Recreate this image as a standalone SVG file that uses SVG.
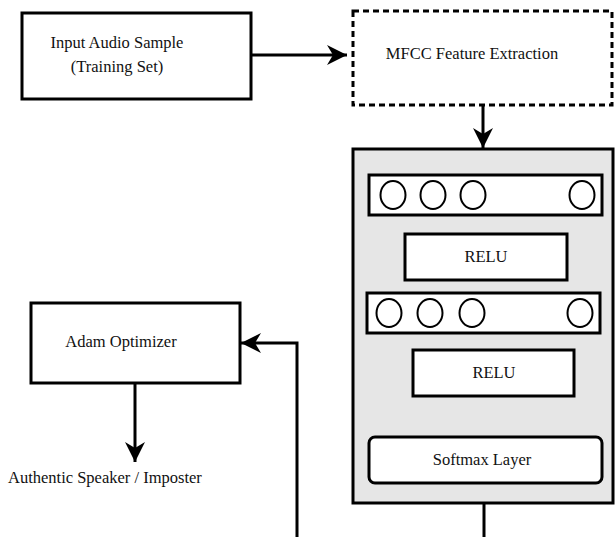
<svg xmlns="http://www.w3.org/2000/svg" width="616" height="537" viewBox="0 0 616 537">
  <style>
    .box { fill: #ffffff; stroke: #000000; stroke-width: 3; }
    .dashed { fill: #ffffff; stroke: #000000; stroke-width: 3; stroke-dasharray: 6 4; }
    .panel { fill: #e6e6e6; stroke: #000000; stroke-width: 3; }
    .neuron { fill: #ffffff; stroke: #000000; stroke-width: 2; }
    .edge { fill: none; stroke: #000000; stroke-width: 3; }
    text { font-family: "Liberation Serif", "Times New Roman", serif; font-size: 16.5px; fill: #111111; }
  </style>
  <defs>
    <marker id="arrow" markerUnits="userSpaceOnUse" markerWidth="24" markerHeight="24" viewBox="-22 -12 24 24" refX="0" refY="0" orient="auto">
      <path d="M0,0 L-20,-10 L-14,0 L-20,10 Z" fill="#000000"/>
    </marker>
  </defs>

  <!-- connectors -->
  <g id="connectors">
    <line class="edge" x1="251" y1="55" x2="347" y2="55" marker-end="url(#arrow)"/>
    <line class="edge" x1="483" y1="105" x2="483" y2="148" marker-end="url(#arrow)"/>
    <polyline class="edge" points="297,537 297,343 241,343" marker-end="url(#arrow)"/>
    <line class="edge" x1="135" y1="383" x2="135" y2="462" marker-end="url(#arrow)"/>
    <line class="edge" x1="484" y1="503" x2="484" y2="537"/>
  </g>

  <g id="input">
    <rect class="box" x="22" y="13" width="229" height="86"/>
    <text x="117" y="48" text-anchor="middle">Input Audio Sample</text>
    <text x="117" y="72" text-anchor="middle">(Training Set)</text>
  </g>

  <g id="mfcc">
    <rect class="dashed" x="353" y="11" width="259" height="94"/>
    <text x="472" y="59" text-anchor="middle">MFCC Feature Extraction</text>
  </g>

  <g id="network">
    <rect class="panel" x="353" y="149" width="260" height="354"/>
    <g id="dense1">
      <rect class="box" x="369" y="175" width="233" height="40"/>
      <ellipse class="neuron" cx="393" cy="195" rx="12.5" ry="14"/>
      <ellipse class="neuron" cx="433" cy="195" rx="12.5" ry="14"/>
      <ellipse class="neuron" cx="473" cy="195" rx="12.5" ry="14"/>
      <ellipse class="neuron" cx="582" cy="195" rx="12.5" ry="14"/>
    </g>
    <g id="relu1">
      <rect class="box" x="405" y="234" width="162" height="46"/>
      <text x="486" y="262" text-anchor="middle">RELU</text>
    </g>
    <g id="dense2">
      <rect class="box" x="367" y="293" width="233" height="40"/>
      <ellipse class="neuron" cx="389" cy="313" rx="12.5" ry="14"/>
      <ellipse class="neuron" cx="430" cy="313" rx="12.5" ry="14"/>
      <ellipse class="neuron" cx="472" cy="313" rx="12.5" ry="14"/>
      <ellipse class="neuron" cx="580" cy="313" rx="12.5" ry="14"/>
    </g>
    <g id="relu2">
      <rect class="box" x="413" y="350" width="161" height="46"/>
      <text x="494" y="378" text-anchor="middle">RELU</text>
    </g>
    <g id="softmax">
      <rect class="box" x="369" y="437" width="233" height="46" rx="6" ry="6"/>
      <text x="482" y="465" text-anchor="middle">Softmax Layer</text>
    </g>
  </g>

  <g id="adam">
    <rect class="box" x="31" y="303" width="209" height="80"/>
    <text x="121" y="347" text-anchor="middle">Adam Optimizer</text>
  </g>

  <g id="output">
    <text x="8" y="483">Authentic Speaker / Imposter</text>
  </g>
</svg>
